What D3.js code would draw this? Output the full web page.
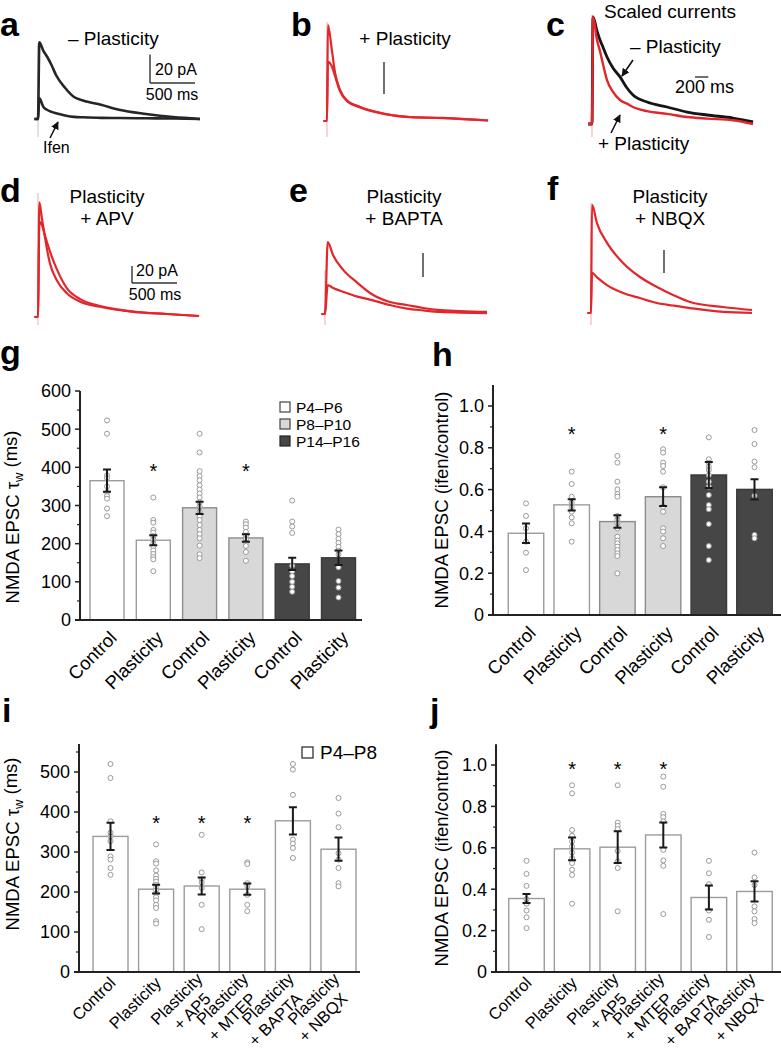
<!DOCTYPE html>
<html>
<head>
<meta charset="utf-8">
<script src="https://cdnjs.cloudflare.com/ajax/libs/d3/7.8.5/d3.min.js"></script>
<style>
  body { margin: 0; background: #fff; }
  svg { display: block; font-family: "Liberation Sans", Arial, Helvetica, sans-serif; }
</style>
</head>
<body>
<svg id="fig" width="781" height="1050"></svg>
<script>
"use strict";

// ---- traces (time in ms, current in pA; panel c normalised) ----
var tA = [-40, 0, 15, 60, 100, 150, 200, 300, 400, 500, 700, 900, 1200, 1500, 1800];
var aControl = [0, 0, 54, 48, 44, 38, 31, 22, 15.5, 13, 10, 6.5, 3.5, 1.3, 0];
var aIfen = [0, 0, 14.5, 8.5, 6.5, 5, 4, 2.5, 1.5, 1.2, 0.8, 0.7, 0.5, 0.3, 0];

var tB = [-40, 0, 10, 55, 90, 145, 220, 370, 555, 920, 1290, 1790];
var bBig = [0, 0, 60, 44, 30, 19.5, 13, 8.8, 5.6, 2.5, 1.9, 0.3];
var bSmall = [0, 0, 37, 34, 28, 18.5, 12.5, 8.5, 5.4, 2.4, 1.8, 0.3];

var tC = [-60, 0, 15, 75, 120, 150, 225, 315, 420, 525, 615, 825, 1125, 1425, 1725, 2115, 2415];
var cMinus = [0, 0, 1.0, 0.87, 0.785, 0.74, 0.626, 0.523, 0.44, 0.336, 0.27, 0.206, 0.159, 0.112, 0.084, 0.056, 0.02];
var cPlus = [0, 0, 1.0, 0.785, 0.68, 0.6, 0.411, 0.3, 0.224, 0.19, 0.159, 0.12, 0.095, 0.065, 0.05, 0.035, 0.0];

var tD = [-40, 0, 15, 45, 80, 130, 210, 320, 470, 690, 1060, 1430, 1790];
var dBig = [0, 0, 135, 115, 92, 64, 43, 28, 18, 12, 6, 3.5, 1.2];
var dSmall = [0, 0, 112, 108, 95, 78, 56, 34, 21, 13, 6.5, 3.5, 1.2];

var tE = [-40, 0, 30, 90, 200, 360, 500, 720, 910, 1090, 1280, 1800];
var eBig = [0, 0, 60, 49, 37, 26, 17.5, 10, 7.5, 5, 3.3, 1.7];
var eSmall = [0, 0, 24, 21.7, 18.5, 14.5, 12, 7.5, 4.5, 3, 1.7, 0.8];

var tF = [-40, 0, 11, 67, 178, 356, 544, 733, 911, 1100, 1467, 1789];
var fBig = [0, 0, 94, 78, 61, 43.5, 31.3, 22.6, 15.7, 9.6, 5.2, 2.6];
var fSmall = [0, 0, 35, 31, 24.3, 17.4, 13, 8.7, 6.5, 4.3, 0.9, 0];

// ---- panel g / h ----
var ageGroups = ["P4\u2013P6", "P8\u2013P10", "P14\u2013P16"];
var ghLabels = [["Control"], ["Plasticity"], ["Control"], ["Plasticity"], ["Control"], ["Plasticity"]];
var ghGroup = [0, 0, 1, 1, 2, 2];

var gMean = [365, 209, 294, 215, 147, 163];
var gSem = [29, 13, 16, 10, 16, 19];
var gSig = [false, true, false, true, false, false];
var gDots = [
  [523, 488, 379, 372, 350, 335, 325, 318, 292, 272],
  [321, 262, 255, 236, 229, 220, 211, 201, 192, 182, 173, 165, 159, 128],
  [488, 439, 390, 377, 366, 353, 342, 331, 321, 308, 297, 284, 271, 262, 249, 236, 225, 214, 195, 172, 162],
  [258, 251, 242, 231, 221, 212, 203, 194, 178, 155],
  [313, 258, 245, 228, 142, 128, 115, 100, 87, 74],
  [237, 225, 213, 202, 192, 181, 172, 138, 102, 85, 59]
];

var hMean = [0.391, 0.527, 0.447, 0.566, 0.67, 0.601];
var hSem = [0.047, 0.027, 0.03, 0.045, 0.062, 0.048];
var hSig = [false, true, false, true, false, false];
var hDots = [
  [0.534, 0.474, 0.415, 0.351, 0.298, 0.215],
  [0.686, 0.627, 0.566, 0.537, 0.515, 0.494, 0.467, 0.439, 0.351],
  [0.761, 0.729, 0.638, 0.601, 0.579, 0.566, 0.474, 0.455, 0.439, 0.415, 0.375, 0.356, 0.343, 0.327, 0.311, 0.295, 0.282, 0.199],
  [0.793, 0.777, 0.729, 0.713, 0.686, 0.611, 0.518, 0.494, 0.415, 0.399, 0.367, 0.330],
  [0.85, 0.745, 0.729, 0.71, 0.694, 0.67, 0.638, 0.614, 0.574, 0.526, 0.506, 0.435, 0.330, 0.263],
  [0.885, 0.818, 0.734, 0.707, 0.571, 0.383, 0.367]
];

// ---- panel i / j ----
var ijLegend = "P4\u2013P8";
var ijLabels = [["Control"], ["Plasticity"], ["Plasticity", "+ AP5"], ["Plasticity", "+ MTEP"],
                ["Plasticity", "+ BAPTA"], ["Plasticity", "+ NBQX"]];

var iMean = [339, 207, 215, 207, 378, 307];
var iSem = [34, 11, 21, 14, 34, 29];
var iSig = [false, true, true, true, false, false];
var iDots = [
  [520, 485, 377, 348, 339, 327, 289, 281, 260, 243],
  [319, 277, 271, 254, 241, 233, 226, 218, 211, 204, 196, 187, 179, 168, 160, 127, 121],
  [343, 249, 232, 224, 210, 168, 107],
  [274, 270, 222, 214, 193, 168, 152],
  [520, 506, 443, 331, 321, 310, 285],
  [435, 396, 362, 297, 281, 260, 222, 214]
];

var jMean = [0.355, 0.595, 0.603, 0.662, 0.36, 0.389];
var jSem = [0.022, 0.055, 0.077, 0.06, 0.058, 0.049];
var jSig = [false, true, true, true, false, false];
var jDots = [
  [0.537, 0.474, 0.416, 0.352, 0.33, 0.297, 0.264, 0.212],
  [0.902, 0.863, 0.686, 0.658, 0.630, 0.606, 0.577, 0.55, 0.526, 0.494, 0.469, 0.33],
  [0.902, 0.722, 0.706, 0.69, 0.585, 0.534, 0.502, 0.293],
  [0.944, 0.895, 0.764, 0.748, 0.727, 0.59, 0.539, 0.513, 0.28],
  [0.537, 0.477, 0.424, 0.297, 0.252, 0.169],
  [0.577, 0.457, 0.42, 0.317, 0.293, 0.256, 0.236]
];

var red = "#e3262b";
var artRed = "#f4a9a9";
var barFill = ["#ffffff", "#d8d8d8", "#464646"];
var barStroke = ["#9c9c9c", "#8c8c8c", "#3a3a3a"];

var svg = d3.select("#fig");
svg.append("defs").append("marker")
  .attr("id", "arr").attr("viewBox", "0 0 10 10")
  .attr("refX", 9).attr("refY", 5)
  .attr("markerWidth", 5).attr("markerHeight", 5)
  .attr("orient", "auto")
  .append("path").attr("d", "M0,0L10,5L0,10z").attr("fill", "#111");

function txt(x, y, s, size, anchor, weight) {
  return svg.append("text")
    .attr("x", x).attr("y", y)
    .attr("text-anchor", anchor || "start")
    .style("font-size", size + "px")
    .style("font-weight", weight || "normal")
    .text(s);
}

function letter(x, y, s) { return txt(x, y, s, 34, "start", "bold"); }

// ---------- traces ----------
function tracePanel(cfg) {
  var x = d3.scaleLinear().domain([0, 1000]).range([cfg.x0, cfg.x0 + 1000 * cfg.pxPerMs]);
  var y = d3.scaleLinear().domain([0, 1]).range([cfg.y0, cfg.y0 - cfg.pxPerUnit]);
  svg.append("line")
    .attr("x1", cfg.x0).attr("x2", cfg.x0)
    .attr("y1", cfg.artTop).attr("y2", cfg.artBottom)
    .attr("stroke", cfg.artColor).attr("stroke-width", 1);
  var line = d3.line()
    .x(function(d) { return x(d[0]); })
    .y(function(d) { return y(d[1]); })
    .curve(d3.curveMonotoneX);
  cfg.series.forEach(function(s) {
    var pts = cfg.t.map(function(t, i) { return [t, s.v[i]]; });
    svg.append("path")
      .attr("d", line(pts))
      .attr("fill", "none")
      .attr("stroke", s.color)
      .attr("stroke-width", s.w || 2.2)
      .attr("stroke-linejoin", "round");
  });
  return { x: x, y: y };
}

function vBar(x, yBottom, len) {
  svg.append("line").attr("x1", x).attr("x2", x)
    .attr("y1", yBottom).attr("y2", yBottom - len)
    .attr("stroke", "#333").attr("stroke-width", 1.4);
}
function hBar(x, y, len) {
  svg.append("line").attr("x1", x).attr("x2", x + len)
    .attr("y1", y).attr("y2", y)
    .attr("stroke", "#333").attr("stroke-width", 1.4);
}
function arrow(x1, y1, x2, y2) {
  svg.append("line").attr("x1", x1).attr("y1", y1).attr("x2", x2).attr("y2", y2)
    .attr("stroke", "#111").attr("stroke-width", 1.6)
    .attr("marker-end", "url(#arr)");
}

// a
var sa = tracePanel({ x0: 38, y0: 119, pxPerMs: 0.09, pxPerUnit: 1.42, t: tA,
  artTop: 43, artBottom: 137, artColor: "#c4c4c4",
  series: [{ v: aControl, color: "#262626", w: 2.6 }, { v: aIfen, color: "#262626", w: 2.6 }] });
vBar(150, 83, sa.y(0) - sa.y(20));
hBar(150, 83, sa.x(500) - sa.x(0));
txt(155, 75, "20 pA", 16);
txt(172, 100, "500 ms", 16, "middle");
txt(68, 45, "\u2013 Plasticity", 19);
txt(43, 153, "Ifen", 16);
arrow(50, 138, 58, 122);
letter(0, 36, "a");

// b
var sb = tracePanel({ x0: 327, y0: 121, pxPerMs: 0.09, pxPerUnit: 1.6, t: tB,
  artTop: 22, artBottom: 137, artColor: artRed,
  series: [{ v: bBig, color: red }, { v: bSmall, color: red }] });
vBar(384, 94, sb.y(0) - sb.y(20));
txt(405, 45, "+ Plasticity", 19, "middle");
letter(291, 36, "b");

// c
var sc = tracePanel({ x0: 592, y0: 124, pxPerMs: 0.0667, pxPerUnit: 107, t: tC,
  artTop: 15, artBottom: 137, artColor: artRed,
  series: [{ v: cMinus, color: "#151515", w: 2.8 }, { v: cPlus, color: red, w: 2.4 }] });
hBar(695, 77, sc.x(200) - sc.x(0));
txt(675, 93, "200 ms", 18);
txt(670, 18, "Scaled currents", 19, "middle");
txt(630, 53, "\u2013 Plasticity", 19);
txt(598, 150, "+ Plasticity", 19);
arrow(633, 60, 622, 76);
arrow(611, 133, 620, 115);
letter(546, 36, "c");

// d
var sd = tracePanel({ x0: 38, y0: 317, pxPerMs: 0.09, pxPerUnit: 0.85, t: tD,
  artTop: 193, artBottom: 325, artColor: artRed,
  series: [{ v: dBig, color: red }, { v: dSmall, color: red }] });
vBar(132, 283, sd.y(0) - sd.y(20));
hBar(132, 283, sd.x(500) - sd.x(0));
txt(136, 276, "20 pA", 16);
txt(155, 300, "500 ms", 16, "middle");
txt(107, 203, "Plasticity", 19, "middle");
txt(107, 225, "+ APV", 19, "middle");
letter(0, 202, "d");

// e
var se = tracePanel({ x0: 325, y0: 314, pxPerMs: 0.09, pxPerUnit: 1.2, t: tE,
  artTop: 270, artBottom: 325, artColor: artRed,
  series: [{ v: eBig, color: red }, { v: eSmall, color: red }] });
vBar(423, 277, se.y(0) - se.y(20));
txt(404, 203, "Plasticity", 19, "middle");
txt(404, 225, "+ BAPTA", 19, "middle");
letter(289, 202, "e");

// f
var sf = tracePanel({ x0: 591, y0: 313, pxPerMs: 0.09, pxPerUnit: 1.15, t: tF,
  artTop: 203, artBottom: 325, artColor: artRed,
  series: [{ v: fBig, color: red }, { v: fSmall, color: red }] });
vBar(664, 273, sf.y(0) - sf.y(20));
txt(670, 203, "Plasticity", 19, "middle");
txt(670, 225, "+ NBQX", 19, "middle");
letter(547, 200, "f");

// ---------- bar charts ----------
function band(n, firstCenter, step, bw) {
  var pi = 1 - bw / step;
  return d3.scaleBand().domain(d3.range(n))
    .range([firstCenter - step / 2, firstCenter - step / 2 + n * step])
    .paddingInner(pi).paddingOuter(pi / 2);
}

function barPanel(o) {
  var x = o.x, y = o.y;
  var g = svg.append("g");
  var cx = function(i) { return x(i) + x.bandwidth() / 2; };

  // bars
  g.selectAll("rect.bar").data(o.mean).enter().append("rect")
    .attr("x", function(d, i) { return x(i); })
    .attr("y", function(d) { return y(d); })
    .attr("width", x.bandwidth())
    .attr("height", function(d) { return y(0) - y(d); })
    .attr("fill", function(d, i) { return barFill[o.group[i]]; })
    .attr("stroke", function(d, i) { return barStroke[o.group[i]]; })
    .attr("stroke-width", 1.4);

  // dots
  o.dots.forEach(function(arr, i) {
    g.selectAll(null).data(arr).enter().append("circle")
      .attr("cx", cx(i)).attr("cy", function(d) { return y(d); })
      .attr("r", 2.5)
      .attr("fill", "#fff").attr("stroke", "#9a9a9a").attr("stroke-width", 1);
  });

  // error bars
  o.mean.forEach(function(m, i) {
    var lo = y(m - o.sem[i]), hi = y(m + o.sem[i]), c = cx(i);
    g.append("path")
      .attr("d", "M" + c + "," + lo + "V" + hi + "M" + (c - 4) + "," + hi + "H" + (c + 4) +
                 "M" + (c - 4) + "," + lo + "H" + (c + 4))
      .attr("stroke", "#1a1a1a").attr("stroke-width", 2).attr("fill", "none");
  });

  // stars
  o.sig.forEach(function(s, i) {
    if (!s) return;
    g.append("text").attr("x", cx(i)).attr("y", y(o.starAt) + 9)
      .attr("text-anchor", "middle").style("font-size", "20px").text("*");
  });

  // y axis
  var x0 = o.axisX, top = y.domain()[1];
  g.append("line").attr("x1", x0).attr("x2", x0).attr("y1", y(0)).attr("y2", y(top))
    .attr("stroke", "#222").attr("stroke-width", 2);
  g.append("line").attr("x1", x0 - 5).attr("x2", o.axisEnd).attr("y1", y(0)).attr("y2", y(0))
    .attr("stroke", "#222").attr("stroke-width", 2);
  o.minor.forEach(function(v) {
    g.append("line").attr("x1", x0 - 3).attr("x2", x0).attr("y1", y(v)).attr("y2", y(v))
      .attr("stroke", "#222").attr("stroke-width", 1.2);
  });
  o.major.forEach(function(v) {
    g.append("line").attr("x1", x0 - 5).attr("x2", x0).attr("y1", y(v)).attr("y2", y(v))
      .attr("stroke", "#222").attr("stroke-width", 1.5);
    g.append("text").attr("x", x0 - 9).attr("y", y(v)).attr("dy", "0.36em")
      .attr("text-anchor", "end").style("font-size", "18px")
      .text(v === 0 ? "0" : o.fmt(v));
  });

  // axis title
  var t = g.append("text")
    .attr("transform", "translate(" + o.titleX + "," + o.titleY + ") rotate(-90)")
    .attr("text-anchor", "middle").style("font-size", "18.5px");
  o.title(t);

  // category labels
  o.labels.forEach(function(lines, i) {
    var lt = g.append("text")
      .attr("transform", "translate(" + (cx(i) + o.labDx) + "," + (y(0) + o.labDy) + ") rotate(-45)")
      .attr("text-anchor", "end").style("font-size", o.labSize + "px");
    lines.forEach(function(s, k) {
      lt.append("tspan").attr("x", k === 0 ? 0 : -o.labSize * 0.5)
        .attr("dy", k === 0 ? (-(lines.length - 1) * 0.35) + "em" : "1.2em")
        .text(s);
    });
  });
}

function tauTitle(t) {
  t.append("tspan").text("NMDA EPSC \u03c4");
  t.append("tspan").attr("dy", "0.3em").style("font-size", "13px").text("w");
  t.append("tspan").attr("dy", "-0.3em").text(" (ms)");
}
function ratioTitle(t) { t.text("NMDA EPSC (ifen/control)"); }

function ticksBy(step, max) { return d3.range(0, max + 1e-9, step); }

// g
barPanel({
  x: band(6, 107, 46.3, 34), y: d3.scaleLinear().domain([0, 600]).range([620, 391]),
  mean: gMean, sem: gSem, dots: gDots, sig: gSig, starAt: 395, group: ghGroup,
  axisX: 80, axisEnd: 362,
  major: ticksBy(100, 600), minor: d3.range(50, 600, 100), fmt: d3.format("d"),
  titleX: 19, titleY: 517, title: tauTitle,
  labels: ghLabels, labDx: 11, labDy: 19, labSize: 18.5
});
letter(0, 364, "g");
ageGroups.forEach(function(s, i) {
  svg.append("rect").attr("x", 280).attr("y", 402 + i * 17).attr("width", 10).attr("height", 10)
    .attr("fill", barFill[i]).attr("stroke", i === 2 ? "#222" : "#444").attr("stroke-width", 1.2);
  txt(296, 412.5 + i * 17, s, 15.5);
});

// h
barPanel({
  x: band(6, 526, 45.7, 35.5), y: d3.scaleLinear().domain([0, 1.1]).range([615, 615 - 1.1 * 209]),
  mean: hMean, sem: hSem, dots: hDots, sig: hSig, starAt: 0.876, group: ghGroup,
  axisX: 493, axisEnd: 781,
  major: ticksBy(0.2, 1.0), minor: d3.range(0.1, 1.1, 0.2), fmt: d3.format(".1f"),
  titleX: 448, titleY: 500, title: ratioTitle,
  labels: ghLabels, labDx: 11, labDy: 19, labSize: 18.5
});
letter(432, 366, "h");

// i
barPanel({
  x: band(6, 110.5, 45.6, 35), y: d3.scaleLinear().domain([0, 570]).range([972, 972 - 570 * 0.4]),
  mean: iMean, sem: iSem, dots: iDots, sig: iSig, starAt: 377, group: [0, 0, 0, 0, 0, 0],
  axisX: 79, axisEnd: 360,
  major: ticksBy(100, 500), minor: d3.range(50, 570, 100), fmt: d3.format("d"),
  titleX: 19, titleY: 844, title: tauTitle,
  labels: ijLabels, labDx: 6, labDy: 12, labSize: 16.5
});
letter(2, 722, "i");
svg.append("rect").attr("x", 302).attr("y", 747).attr("width", 11).attr("height", 11)
  .attr("fill", "#fff").attr("stroke", "#333").attr("stroke-width", 1.3);
txt(320, 759, ijLegend, 19);

// j
barPanel({
  x: band(6, 526.5, 45.6, 35.5), y: d3.scaleLinear().domain([0, 1.1]).range([972, 972 - 1.1 * 207]),
  mean: jMean, sem: jSem, dots: jDots, sig: jSig, starAt: 0.992, group: [0, 0, 0, 0, 0, 0],
  axisX: 496, axisEnd: 781,
  major: ticksBy(0.2, 1.0), minor: d3.range(0.1, 1.1, 0.2), fmt: d3.format(".1f"),
  titleX: 448, titleY: 858, title: ratioTitle,
  labels: ijLabels, labDx: 6, labDy: 12, labSize: 16.5
});
letter(430, 722, "j");
</script>
</body>
</html>
